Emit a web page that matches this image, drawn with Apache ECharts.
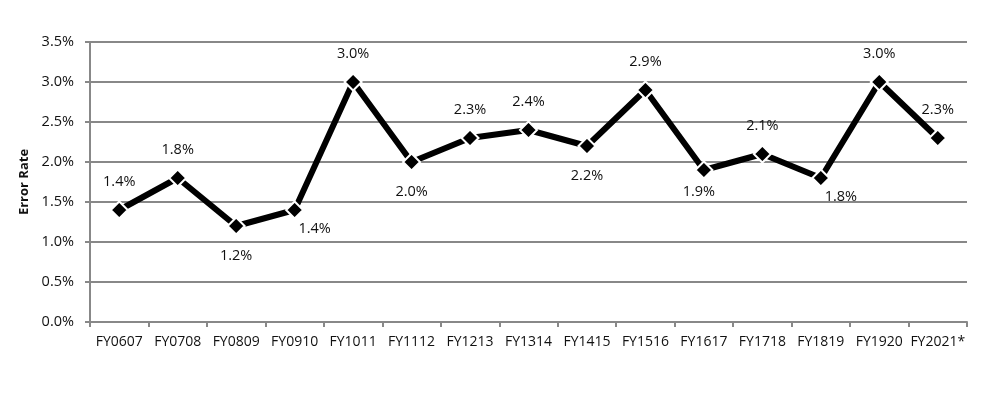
<!DOCTYPE html>
<html><head><meta charset="utf-8">
<script src="https://cdn.jsdelivr.net/npm/echarts@6/dist/echarts.min.js"></script>
<style>html,body{margin:0;padding:0;background:#fff}#c{width:1004px;height:413px}</style>
</head><body><div id="c"></div>
<script>
const categories = ['FY0607','FY0708','FY0809','FY0910','FY1011','FY1112','FY1213','FY1314','FY1415','FY1516','FY1617','FY1718','FY1819','FY1920','FY2021*'];
const errorRate = [1.4, 1.8, 1.2, 1.4, 3.0, 2.0, 2.3, 2.4, 2.2, 2.9, 1.9, 2.1, 1.8, 3.0, 2.3];
// label placement (style only): above / below / below-right / below-left
const labelPlace = ['above','above','below','belowRight','above','below','above','above','below','above','belowLeft','above','belowRight','above','above'];

const font = '"Open Sans", "Liberation Sans", sans-serif';
const placeCfg = {
  above: [0,-28],
  below: [0,30],
  belowRight: [20,19],
  belowLeft: [-5,22]
};
const data = errorRate.map((v,i)=>({value:v, label:{position:'inside', offset:placeCfg[labelPlace[i]]}}));

const chart = echarts.init(document.getElementById('c'));
chart.setOption({
  animation:false,
  grid:{left:90, right:37, top:42, bottom:91, containLabel:false},
  xAxis:{type:'category', data:categories, boundaryGap:true,
    axisLine:{lineStyle:{color:'#888', width:2}},
    axisTick:{show:true, length:5, lineStyle:{color:'#888', width:2}},
    axisLabel:{color:'#111', fontFamily:font, fontSize:14, margin:13, interval:0}},
  yAxis:{type:'value', min:0, max:3.5, interval:0.5,
    name:'Error Rate', nameLocation:'middle', nameGap:56, nameRotate:90,
    nameTextStyle:{fontFamily:font, fontWeight:'bold', fontSize:13, color:'#111'},
    axisLine:{show:true, lineStyle:{color:'#888', width:2}},
    axisTick:{show:true, length:5, inside:false, lineStyle:{color:'#888', width:2}},
    splitLine:{lineStyle:{color:'#888', width:2}},
    axisLabel:{color:'#111', fontFamily:font, fontSize:14.5, margin:16, formatter:v=>v.toFixed(1)+'%'}},
  series:[{type:'line', data:data, symbol:'diamond', symbolSize:17,
    lineStyle:{color:'#000', width:6},
    itemStyle:{color:'#000', borderColor:'#fff', borderWidth:2},
    label:{show:true, fontFamily:font, fontSize:14.5, color:'#111', formatter:p=>p.value.toFixed(1)+'%'}}]
});
</script></body></html>
